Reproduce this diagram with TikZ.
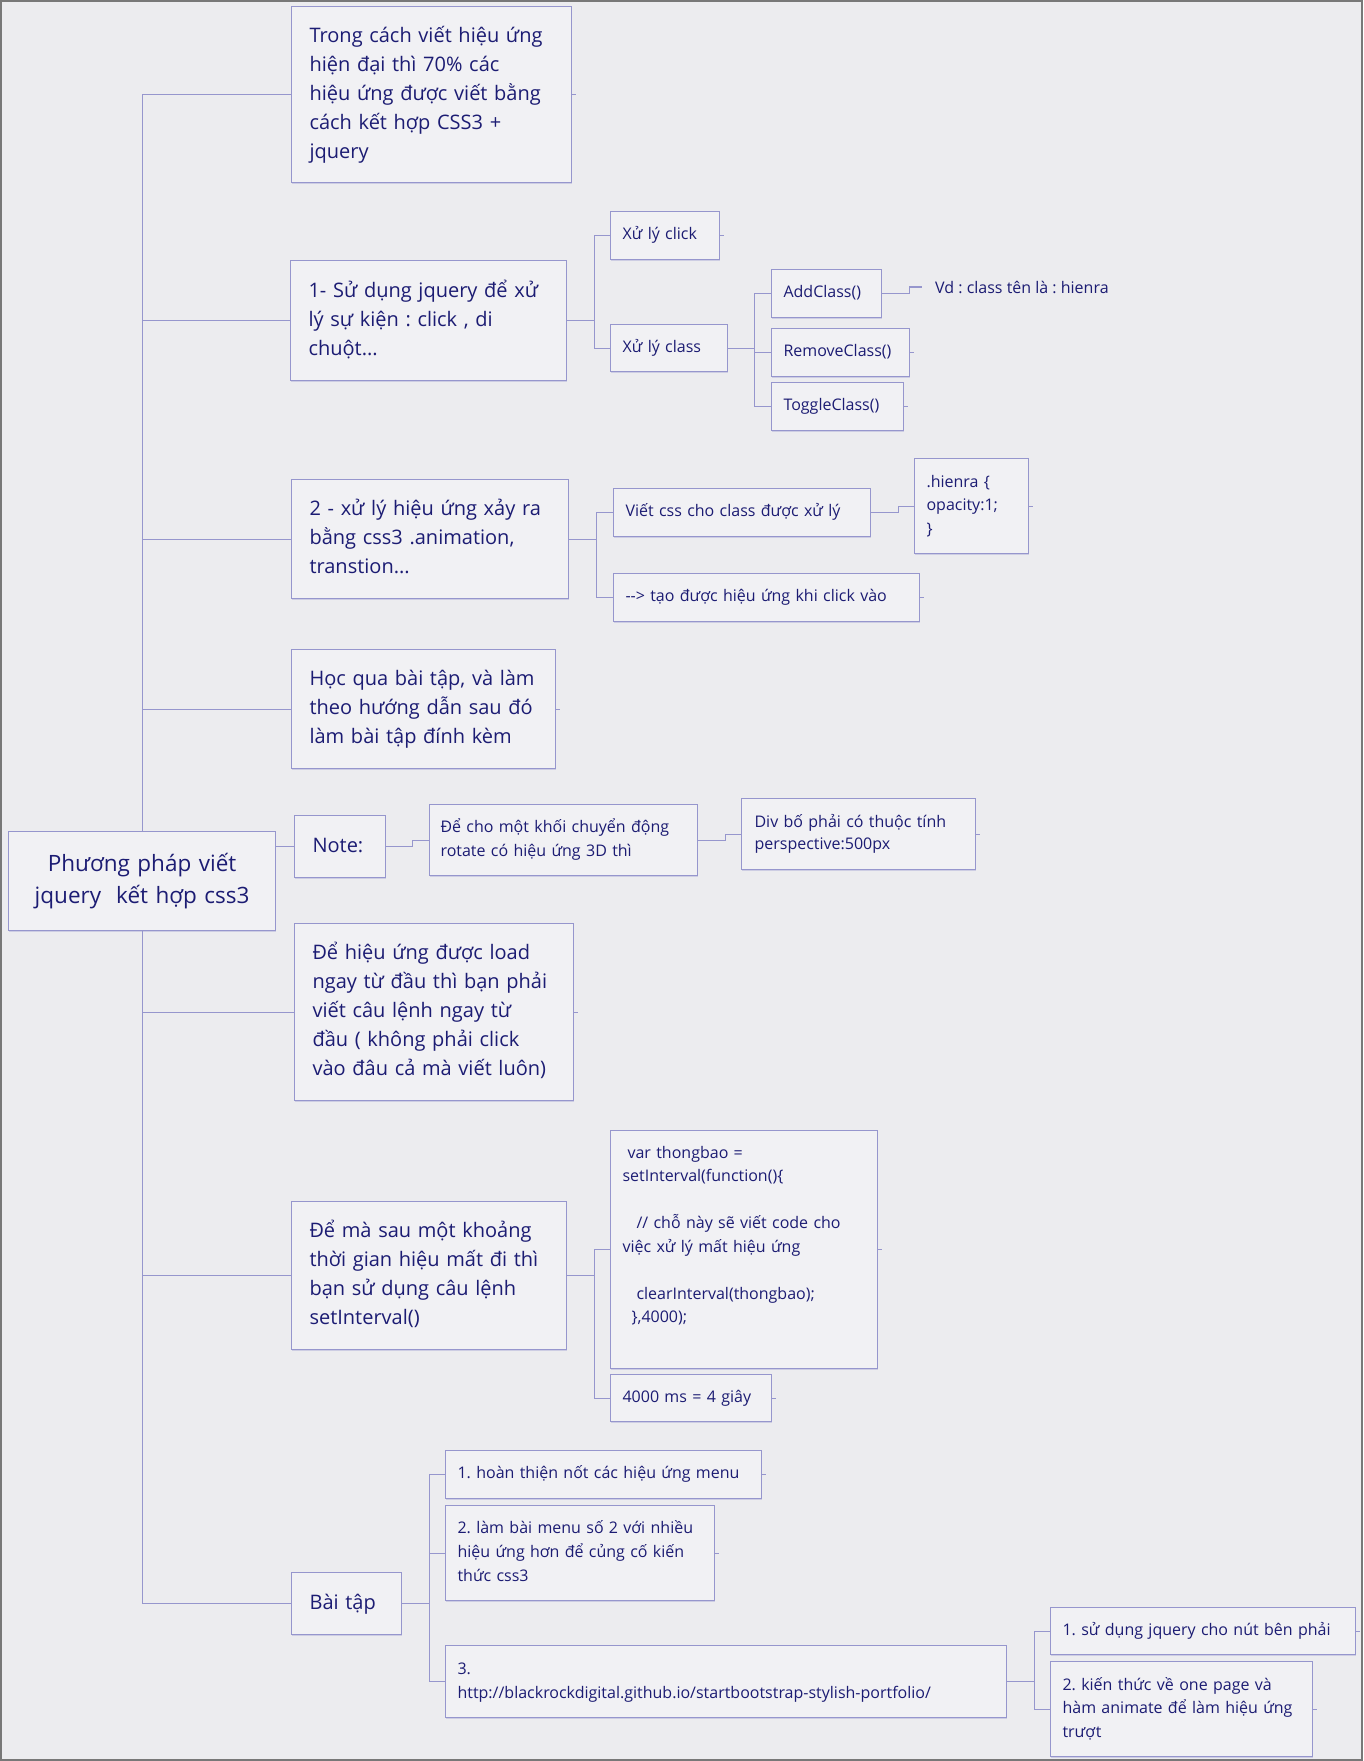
\documentclass[tikz,border=0pt]{standalone}
\usepackage{fontspec}
\setmainfont{Open Sans}
\usetikzlibrary{calc,shadows}
\definecolor{bg}{RGB}{236,236,239}
\definecolor{boxfill}{RGB}{241,241,244}
\definecolor{boxline}{RGB}{150,150,205}
\definecolor{txt}{RGB}{28,28,115}
\definecolor{framec}{RGB}{120,120,120}
\newcommand\tl[1]{\begin{tabular}{@{}l@{}}#1\end{tabular}}
\newcommand\tc[1]{\begin{tabular}{@{}c@{}}#1\end{tabular}}
\frenchspacing
\begin{document}
\frenchspacing
\begin{tikzpicture}[x=1pt,y=-1pt,
 bx/.style={draw=boxline, fill=boxfill, line width=1.1pt, anchor=north west, inner ysep=0pt, text=txt, align=left,
   drop shadow={shadow xshift=0.8pt, shadow yshift=-1.4pt, fill=boxline, opacity=0.35}},
 big/.style={bx, inner xsep=18pt, font=\fontsize{20}{29}\selectfont\frenchspacing},
 sm/.style={bx, inner xsep=12pt, font=\fontsize{16}{22}\selectfont\frenchspacing},
 cn/.style={draw=boxline, line width=1.1pt},
 stub/.style={draw=boxline, line width=1pt},
]
\useasboundingbox (0,0) rectangle (1363,1761);
\fill[bg] (0,0) rectangle (1363,1761);
\draw[framec, line width=2pt] (1,1) rectangle (1362,1760);

% root
\node[bx, inner xsep=10pt, text width=247pt, minimum height=99pt, align=center, font=\fontsize{22.5}{32}\selectfont] (root) at (8,831) {\tc{Phương pháp viết\\jquery\ \ kết hợp css3}};

% first-level
\node[big, text width=244pt, minimum height=176pt] (A) at (291,6) {\tl{Trong cách viết hiệu ứng\\hiện đại thì 70\% các\\hiệu ứng được viết bằng\\cách kết hợp CSS3 +\\jquery}};
\node[big, text width=240pt, minimum height=120pt] (B) at (290,260) {\tl{1- Sử dụng jquery để xử\\lý sự kiện : click , di\\chuột...}};
\node[big, text width=241pt, minimum height=119pt] (C) at (291,479) {\tl{2 - xử lý hiệu ứng xảy ra\\bằng css3 .animation,\\transtion...}};
\node[big, text width=228pt, minimum height=119pt] (D) at (291,649) {\tl{Học qua bài tập, và làm\\theo hướng dẫn sau đó\\làm bài tập đính kèm}};
\node[big, text width=55pt, minimum height=62pt] (note) at (294,815) {\tl{Note:}};
\node[big, text width=243pt, minimum height=177pt] (E) at (294,923) {\tl{Để hiệu ứng được load\\ngay từ đầu thì bạn phải\\viết câu lệnh ngay từ\\đầu ( không phải click\\vào đâu cả mà viết luôn)}};
\node[big, text width=239pt, minimum height=148pt] (F) at (291,1201) {\tl{Để mà sau một khoảng\\thời gian hiệu mất đi thì\\bạn sử dụng câu lệnh\\setInterval()}};
\node[big, text width=74pt, minimum height=62pt] (bt) at (291,1572) {\tl{Bài tập}};

% B subtree
\node[sm, text width=85pt, minimum height=48pt] (click) at (610,211) {\tl{Xử lý click}};
\node[sm, text width=93pt, minimum height=47pt] (class) at (610,324) {\tl{Xử lý class}};
\node[sm, text width=86pt, minimum height=48pt] (add) at (771,269) {\tl{AddClass()}};
\node[sm, text width=114pt, minimum height=48pt] (remove) at (771,328) {\tl{RemoveClass()}};
\node[sm, text width=108pt, minimum height=48pt] (toggle) at (771,382) {\tl{ToggleClass()}};
\node[anchor=west, inner xsep=13pt, text=txt, font=\fontsize{16}{22}\selectfont\frenchspacing] (vd) at (922,287) {Vd : class tên là : hienra};

% C subtree
\node[sm, text width=233pt, minimum height=48pt] (css) at (613,488) {\tl{Viết css cho class được xử lý}};
\node[sm, text width=90pt, minimum height=95pt, font=\fontsize{16}{23.5}\selectfont] (hienra) at (914,458) {\tl{.hienra \{\\opacity:1;\\\}}};
\node[sm, text width=282pt, minimum height=48pt] (tao) at (613,573) {\tl{-{}-> tạo được hiệu ứng khi click vào}};

% note subtree
\node[sm, inner xsep=11pt, text width=246pt, minimum height=71pt, font=\fontsize{16}{24}\selectfont] (decho) at (429,804) {\tl{Để cho một khối chuyển động\\rotate có hiệu ứng 3D thì}};
\node[sm, inner xsep=13pt, text width=208pt, minimum height=71pt] (div) at (741,798) {\tl{Div bố phải có thuộc tính\\perspective:500px}};

% F subtree
\node[sm, text width=243pt, minimum height=238pt, font=\fontsize{16}{23.5}\selectfont] (code) at (610,1130) {\tl{\hspace{5pt}var thongbao =\\setInterval(function()\{\\ \\
\hspace{14pt}// chỗ này sẽ viết code cho\\việc xử lý mất hiệu ứng\\ \\
\hspace{14pt}clearInterval(thongbao);\\\hspace{9pt}\},4000);\\\rule{0pt}{20pt}}};
\node[sm, text width=137pt, minimum height=47pt] (ms) at (610,1374) {\tl{4000 ms = 4 giây}};

% bai tap subtree
\node[sm, text width=292pt, minimum height=48pt] (h1) at (445,1450) {\tl{1. hoàn thiện nốt các hiệu ứng menu}};
\node[sm, text width=245pt, minimum height=95pt, font=\fontsize{16}{24}\selectfont] (h2) at (445,1505) {\tl{2. làm bài menu số 2 với nhiều\\hiệu ứng hơn để củng cố kiến\\thức css3}};
\node[sm, text width=537pt, minimum height=72pt, font=\fontsize{16}{24}\selectfont] (h3) at (445,1645) {\tl{3.\\http://blackrockdigital.github.io/startbootstrap-stylish-portfolio/}};
\node[sm, text width=281pt, minimum height=47pt] (s1) at (1050,1607) {\tl{1. sử dụng jquery cho nút bên phải}};
\node[sm, text width=238pt, minimum height=95pt, font=\fontsize{16}{23.5}\selectfont] (s2) at (1050,1661) {\tl{2. kiến thức về one page và\\hàm animate để làm hiệu ứng\\trượt}};

% trunk
\foreach \n in {A,B,C,D} \draw[cn] (root.north) |- (\n.west);
\foreach \n in {E,F,bt} \draw[cn] (root.south) |- (\n.west);
\draw[cn] (note.west) -- (note.west -| root.east);

% B
\coordinate (bB) at ($(B.east)+(27,0)$);
\draw[cn] (B.east) -- (bB) |- (click.west);
\draw[cn] (bB) |- (class.west);
\coordinate (bK) at ($(class.east)+(26,0)$);
\draw[cn] (class.east) -- (bK) |- (add.west);
\draw[cn] (bK) |- (remove.west);
\draw[cn] (bK) |- (toggle.west);
\draw[cn] (add.east) -- ++(27,0) |- (vd.west);

% C
\coordinate (bC) at ($(C.east)+(27,0)$);
\draw[cn] (C.east) -- (bC) |- (css.west);
\draw[cn] (bC) |- (tao.west);
\draw[cn] (css.east) -- ++(27,0) |- (hienra.west);

% note
\draw[cn] (note.east) -- ++(26,0) |- (decho.west);
\draw[cn] (decho.east) -- ++(27,0) |- (div.west);

% F
\coordinate (bF) at ($(F.east)+(27,0)$);
\draw[cn] (F.east) -- (bF) |- (code.west);
\draw[cn] (bF) |- (ms.west);

% bai tap
\coordinate (bT) at ($(bt.east)+(27,0)$);
\draw[cn] (bt.east) -- (bT) |- (h1.west);
\draw[cn] (bT) |- (h2.west);
\draw[cn] (bT) |- (h3.west);
\coordinate (bH) at ($(h3.east)+(27,0)$);
\draw[cn] (h3.east) -- (bH) |- (s1.west);
\draw[cn] (bH) |- (s2.west);

% stubs on leaves
\foreach \n in {A,click,remove,toggle,hienra,tao,D,div,E,code,ms,h1,h2,s1,s2} \draw[stub] (\n.east) -- ++(4,0);
\end{tikzpicture}
\end{document}
